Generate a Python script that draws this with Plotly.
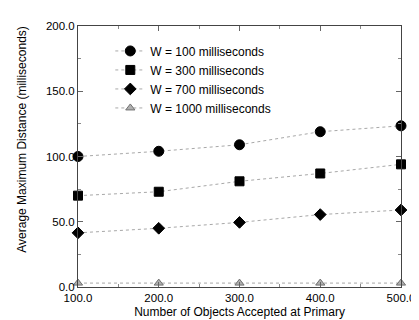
import plotly.graph_objects as go

x_objects = [100, 200, 300, 400, 500]
x_tick_labels = ["100.0", "200.0", "300.0", "400.0", "500.0"]
y_tick_values = [0, 50, 100, 150, 200]
y_tick_labels = ["0.0", "50.0", "100.0", "150.0", "200.0"]
w100 = [100.0, 104.0, 109.0, 119.0, 123.5]
w300 = [70.0, 73.0, 81.0, 87.0, 94.0]
w700 = [41.5, 45.0, 49.5, 55.5, 59.0]
w1000 = [3.0, 3.0, 3.0, 3.0, 3.0]

series = [
    ("W = 100 milliseconds", w100, "circle", 10, "black", "black"),
    ("W = 300 milliseconds", w300, "square", 9, "black", "black"),
    ("W = 700 milliseconds", w700, "diamond", 9, "black", "black"),
    ("W = 1000 milliseconds", w1000, "triangle-up", 8, "#b0b0b0", "#707070"),
]

fig = go.Figure()
for name, vals, sym, sz, col, lcol in series:
    fig.add_trace(go.Scatter(
        x=x_objects, y=vals, name=name, mode="lines+markers",
        line=dict(color="#a8a8a8", width=1, dash="dot"),
        marker=dict(symbol=sym, size=sz, color=col, line=dict(color=lcol, width=1)),
        cliponaxis=False,
    ))

font = "Liberation Sans, Arial, Helvetica, sans-serif"
fig.update_layout(
    width=419, height=320,
    margin=dict(l=70, r=17, t=12, b=36),
    paper_bgcolor="white", plot_bgcolor="white",
    font=dict(family=font, size=12, color="black"),
    showlegend=True,
    legend=dict(x=0.1, y=0.96, xanchor="left", yanchor="top",
                bgcolor="rgba(0,0,0,0)", font=dict(size=12),
                itemwidth=30, tracegroupgap=0),
    xaxis=dict(
        range=[100, 500], tickvals=x_objects, ticktext=x_tick_labels,
        showgrid=False, zeroline=False, showline=True, linecolor="#444444",
        linewidth=1, mirror="ticks", ticks="inside", ticklen=5, tickcolor="#666666",
        minor=dict(dtick=50, ticks="inside", ticklen=3, tickcolor="#888888"),
        tickfont=dict(size=11.5),
        title=dict(text="Number of Objects Accepted at Primary", standoff=4, font=dict(size=12)),
    ),
    yaxis=dict(
        range=[0, 200], tickvals=y_tick_values, ticktext=y_tick_labels,
        showgrid=False, zeroline=False, showline=True, linecolor="#444444",
        linewidth=1, mirror="ticks", ticks="inside", ticklen=5, tickcolor="#666666",
        minor=dict(dtick=25, ticks="inside", ticklen=3, tickcolor="#888888"),
        tickfont=dict(size=11.5), ticklabelstandoff=0,
    ),
    annotations=[dict(
        text="Average Maximum Distance (milliseconds)", textangle=-90,
        xref="paper", yref="paper", x=-0.172, y=0.566,
        xanchor="center", yanchor="middle", showarrow=False,
        font=dict(size=12),
    )],
)

fig.write_html("out.html")
